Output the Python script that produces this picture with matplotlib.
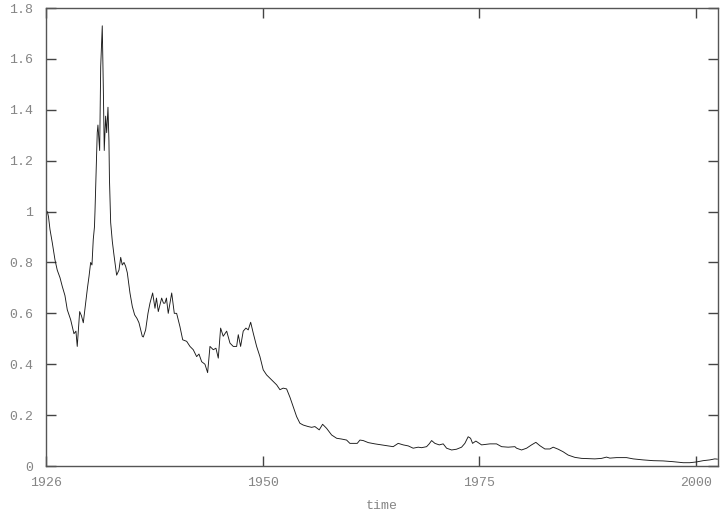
import matplotlib
matplotlib.use("Agg")
import matplotlib.pyplot as plt
from matplotlib.ticker import FormatStrFormatter

# serie (anio, valor); leida con 1926 en el borde izquierdo,
# pero las marcas 1950/1975/2000 dicen que el borde esta ~1.06 anios antes
anios_leidos = [1926.00, 1926.15, 1926.29, 1926.46, 1926.73, 1927.04, 1927.30, 1927.62, 1927.88,
                1928.19, 1928.46, 1928.85, 1929.23, 1929.46, 1929.61, 1929.89, 1930.10, 1930.31,
                1930.58, 1930.79, 1930.97, 1931.16, 1931.31, 1931.46, 1931.60, 1931.66, 1931.77,
                1931.92, 1932.00, 1932.20, 1932.32, 1932.50, 1932.62, 1932.73, 1932.89, 1933.01,
                1933.16, 1933.27, 1933.33, 1933.47, 1933.66, 1933.85, 1934.16, 1934.43, 1934.63,
                1934.81, 1935.01, 1935.20, 1935.39, 1935.70, 1935.97, 1936.24, 1936.51, 1936.74,
                1936.97, 1937.12, 1937.24, 1937.51, 1937.78, 1938.01, 1938.32, 1938.59, 1938.76,
                1938.97, 1939.36, 1939.57, 1939.74, 1939.91, 1940.12, 1940.52, 1940.82, 1941.09,
                1941.47, 1941.79, 1942.25, 1942.63, 1943.01, 1943.40, 1943.67, 1943.98, 1944.36,
                1944.67, 1944.94, 1945.32, 1945.63, 1945.90, 1946.17, 1946.47, 1946.87, 1947.25,
                1947.63, 1948.02, 1948.21, 1948.48, 1948.78, 1949.09, 1949.36, 1949.64, 1949.94,
                1950.33, 1950.71, 1951.09, 1951.48, 1951.87, 1952.25, 1952.64, 1953.02, 1953.40,
                1953.79, 1954.18, 1954.56, 1954.95, 1955.33, 1955.71, 1956.29, 1956.68, 1957.06,
                1957.56, 1957.95, 1958.41, 1958.99, 1959.57, 1960.14, 1960.72, 1961.10, 1961.95,
                1962.26, 1962.64, 1963.22, 1963.99, 1964.76, 1965.53, 1966.10, 1966.68, 1967.26,
                1967.84, 1968.41, 1968.99, 1969.38, 1969.96, 1970.26, 1970.54, 1970.92, 1971.42,
                1971.88, 1972.27, 1972.85, 1973.42, 1974.00, 1974.38, 1974.76, 1975.04, 1975.27,
                1975.65, 1976.31, 1977.27, 1978.04, 1978.62, 1979.38, 1980.16, 1980.35, 1980.93,
                1981.51, 1982.08, 1982.58, 1983.04, 1983.62, 1984.20, 1984.58, 1985.16, 1985.73,
                1986.31, 1987.08, 1987.86, 1988.62, 1989.39, 1990.17, 1990.74, 1991.13, 1991.90,
                1993.05, 1993.82, 1994.97, 1996.13, 1997.28, 1998.44, 1999.59, 2000.36, 2001.14,
                2001.90, 2002.67, 2003.25, 2003.54]
desfase = 1.06
anios = [a - desfase for a in anios_leidos]

valores = [1.00, 1.00, 0.98, 0.93, 0.877, 0.81, 0.77, 0.74, 0.706,
           0.67, 0.614, 0.575, 0.52, 0.53, 0.47, 0.607, 0.59, 0.563,
           0.64, 0.70, 0.745, 0.80, 0.79, 0.89, 0.94, 1.00, 1.13,
           1.31, 1.34, 1.24, 1.57, 1.73, 1.49, 1.24, 1.375, 1.31,
           1.41, 1.28, 1.13, 0.957, 0.883, 0.83, 0.75, 0.77, 0.82,
           0.79, 0.80, 0.785, 0.76, 0.68, 0.627, 0.594, 0.58, 0.563,
           0.53, 0.51, 0.507, 0.535, 0.60, 0.64, 0.68, 0.62, 0.66,
           0.607, 0.66, 0.64, 0.64, 0.66, 0.60, 0.68, 0.60, 0.60,
           0.548, 0.496, 0.49, 0.47, 0.457, 0.43, 0.44, 0.41, 0.40,
           0.367, 0.47, 0.457, 0.463, 0.424, 0.542, 0.51, 0.53, 0.483,
           0.47, 0.47, 0.516, 0.47, 0.53, 0.542, 0.535, 0.565, 0.522,
           0.47, 0.43, 0.378, 0.358, 0.345, 0.332, 0.319, 0.30, 0.306,
           0.303, 0.27, 0.233, 0.194, 0.168, 0.161, 0.155, 0.152, 0.155,
           0.142, 0.164, 0.148, 0.122, 0.109, 0.106, 0.102, 0.089, 0.089,
           0.102, 0.10, 0.092, 0.087, 0.083, 0.079, 0.076, 0.089, 0.083,
           0.079, 0.07, 0.074, 0.072, 0.076, 0.087, 0.10, 0.089, 0.083,
           0.087, 0.07, 0.063, 0.066, 0.074, 0.089, 0.115, 0.109, 0.089,
           0.098, 0.083, 0.087, 0.087, 0.076, 0.074, 0.076, 0.07, 0.063,
           0.07, 0.083, 0.093, 0.08, 0.067, 0.067, 0.074, 0.066, 0.056,
           0.043, 0.034, 0.03, 0.029, 0.028, 0.03, 0.035, 0.031, 0.033,
           0.033, 0.028, 0.024, 0.021, 0.02, 0.017, 0.013, 0.013, 0.016,
           0.021, 0.024, 0.028, 0.027]

x_min, x_max = 1924.94, 2002.55
ticks_x = [x_min, 1950, 1975, 2000]
etiquetas_x = ["1926", "1950", "1975", "2000"]
ticks_y = [0, 0.2, 0.4, 0.6, 0.8, 1.0, 1.2, 1.4, 1.6, 1.8]

gris = "#858585"
fuente = "Liberation Mono"

fig = plt.figure(figsize=(7.23, 5.13), dpi=100)
ax = fig.add_axes([0.0636, 0.0916, 0.9294, 0.8928])

ax.plot(anios, valores, color="#1a1a1a", linewidth=0.65)

ax.set_xlim(x_min, x_max)
ax.set_ylim(0, 1.8)
ax.set_xticks(ticks_x)
ax.set_xticklabels(etiquetas_x)
ax.set_yticks(ticks_y)
ax.yaxis.set_major_formatter(FormatStrFormatter("%g"))

# ticks hacia adentro en los cuatro lados, estilo gnuplot
ax.tick_params(direction="in", length=7, width=1, color="#444444",
               top=True, right=True, labelcolor=gris, labelsize=9.5)
ax.tick_params(axis="x", pad=8)
ax.tick_params(axis="y", pad=9)
for lbl in ax.get_xticklabels() + ax.get_yticklabels():
    lbl.set_fontfamily(fuente)

for s in ax.spines.values():
    s.set_color("#555555")
    s.set_linewidth(1)

ax.set_xlabel("time", fontfamily=fuente, fontsize=9.5, color=gris, labelpad=8)

fig.savefig("out.png", dpi=100)
